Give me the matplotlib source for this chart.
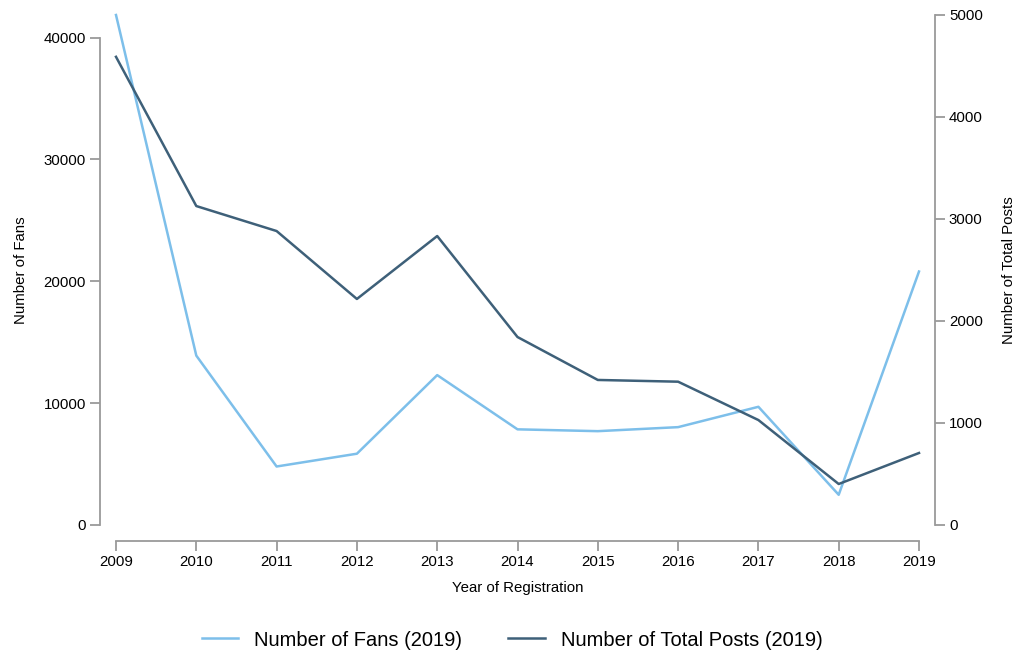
import matplotlib.pyplot as plt

plt.rcParams['font.family'] = ['Liberation Sans', 'DejaVu Sans']

years = [2009, 2010, 2011, 2012, 2013, 2014, 2015, 2016, 2017, 2018, 2019]
fans = [41850, 13900, 4800, 5850, 12300, 7850, 7700, 8030, 9700, 2480, 20800]
posts = [4590, 3127, 2882, 2216, 2833, 1843, 1422, 1405, 1029, 402, 706]

fan_col = '#7dbfea'
post_col = '#3e6079'
axis_col = '#9a9a9a'

fig = plt.figure(figsize=(10.17, 6.59), dpi=100)
ax = fig.add_axes([116/1017, 1 - 525/659, (919-116)/1017, (525-15)/659])
ax2 = ax.twinx()

l1, = ax.plot(years, fans, color=fan_col, lw=1.8, clip_on=False)
l2, = ax2.plot(years, posts, color=post_col, lw=1.8, clip_on=False)

ax.set_xlim(2009, 2019)
ax.set_ylim(0, max(fans))
ax2.set_ylim(0, 5000)
ax.set_xticks(years)
ax.set_yticks([0, 10000, 20000, 30000, 40000])
ax2.set_yticks([0, 1000, 2000, 3000, 4000, 5000])

# detached d3-like axes (16 px outward)
off = 16 * 72 / 100
for a in (ax, ax2):
    for s in a.spines.values():
        s.set_visible(False)
ax.spines['left'].set_visible(True)
ax.spines['bottom'].set_visible(True)
ax2.spines['right'].set_visible(True)
ax.spines['left'].set_position(('outward', off))
ax.spines['bottom'].set_position(('outward', off))
ax2.spines['right'].set_position(('outward', off))
ax.spines['left'].set_bounds(0, 40000)
ax.spines['bottom'].set_bounds(2009, 2019)
for s in (ax.spines['left'], ax.spines['bottom'], ax2.spines['right']):
    s.set_color(axis_col)
    s.set_linewidth(1.3)

for a in (ax, ax2):
    a.tick_params(axis='both', length=7, width=1.3, color=axis_col,
                  labelsize=10.8, labelcolor='black', pad=3)

ax.set_xlabel('Year of Registration', fontsize=10.8, labelpad=9)
ax.set_ylabel('Number of Fans', fontsize=10.8, labelpad=11)
ax2.set_ylabel('Number of Total Posts', fontsize=10.8, labelpad=14)

fig.legend([l1, l2], ['Number of Fans (2019)', 'Number of Total Posts (2019)'],
           loc='center', bbox_to_anchor=(512/1017, 1 - 640/659), ncol=2,
           frameon=False, fontsize=14.5, handlelength=1.8, handletextpad=0.8,
           columnspacing=2.3)

fig.savefig('out.png', dpi=100)
